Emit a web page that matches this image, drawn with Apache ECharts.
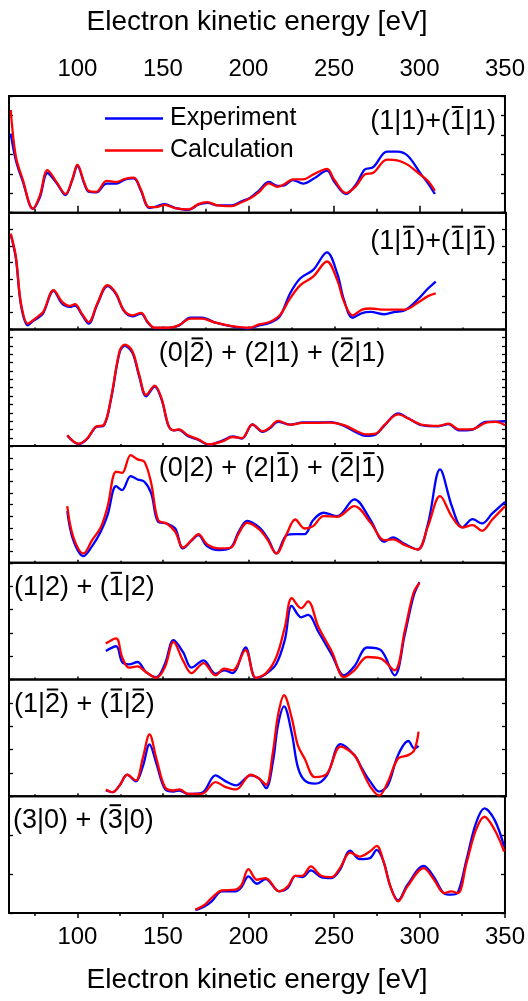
<!DOCTYPE html>
<html>
<head>
<meta charset="utf-8">
<script src="https://cdn.jsdelivr.net/npm/echarts@6/dist/echarts.min.js"></script>
<style>
  html, body { margin: 0; padding: 0; background: #fff; }
  #main { width: 528px; height: 1001px; }
</style>
</head>
<body>
<div id="main"></div>
<script>
// tick values of the energy axis
var xMajor = [100, 150, 200, 250, 300, 350];
var xMinor = [75, 125, 175, 225, 275, 325];

// panel labels (U+0305 after a digit = overline on that digit)
var labels = [
  '(1|1)+(1\u0305|1)',
  '(1|1\u0305)+(1\u0305|1\u0305)',
  '(0|2\u0305) + (2|1) + (2\u0305|1)',
  '(0|2) + (2|1\u0305) + (2\u0305|1\u0305)',
  '(1|2) + (1\u0305|2)',
  '(1|2\u0305) + (1\u0305|2\u0305)',
  '(3|0) + (3\u0305|0)'
];

// panel 1
var e1 = [61, 64, 68, 74, 78, 82.5, 88, 93, 97, 100, 104, 106.5, 111, 117, 123, 128, 133, 137, 142, 146, 151, 157, 165, 171, 176, 182, 190, 196, 201, 206, 212, 217, 221, 226, 232, 238, 246, 250, 257, 263, 268, 273, 281, 287, 293, 301, 305, 309];
var exp1 = [67.8, 45, 27, 3.4, 13, 34, 25, 15, 28, 40, 25, 18, 17.4, 25, 25, 28.6, 29.4, 19.3, 4.2, 5.3, 7.3, 4.2, 2.5, 7, 8.4, 6.2, 6.2, 9.8, 12.9, 18.8, 26.3, 23, 23.5, 28, 25, 29, 36, 27, 16, 24.4, 37, 39, 52.4, 52.4, 49, 32.8, 25.2, 16];
var calc1 = [88, 48.2, 28.6, 3.4, 14.6, 36.4, 25.8, 16, 28.6, 41.2, 25.8, 18.8, 17.9, 27.2, 26.3, 29.1, 30, 20.2, 4.8, 4.8, 6.7, 3.9, 2.8, 7.6, 9, 6.2, 5.6, 9, 12.3, 17.4, 25.2, 22.1, 24.4, 28.6, 28.6, 32.8, 37.5, 28.6, 16.8, 23, 32.8, 34.2, 45.4, 44.8, 41.2, 31.9, 27.2, 18.8];

// panel 2
var e2 = [61, 64, 67, 71, 74, 77, 80, 86, 91, 95.5, 98.5, 102.5, 106.5, 111.5, 117.5, 122.5, 127, 132, 137, 141, 145, 153, 159, 166, 172.5, 180.5, 190, 200, 206, 212, 218, 224, 230, 237.5, 245.5, 251.5, 255.5, 260.5, 266, 271, 279, 285, 291, 298.5, 304.5, 309];
var exp2 = [81.3, 61, 20.7, 3.5, 7.2, 10, 14, 33, 22, 19.3, 20.5, 12.7, 4.9, 21.3, 37, 30, 15.9, 11.2, 13.5, 5.8, 1.2, 1.2, 3.2, 10, 10, 5.8, 2.6, 0.9, 3.5, 5.5, 11.2, 30.8, 43.8, 51, 66, 48, 25, 10, 14, 15, 13, 15, 16.4, 25.6, 35, 41];
var calc2 = [82.1, 62.5, 22.2, 4.9, 7.8, 11.2, 15, 33.7, 23.6, 20.2, 21.6, 13.5, 6.3, 22.2, 38, 30.8, 16.4, 12.1, 14.1, 6.3, 1.4, 1.4, 3.5, 9.2, 9.2, 5.8, 2.9, 1.4, 4.3, 6.3, 12.1, 26.5, 38, 45.2, 58.2, 42.4, 23.6, 12.1, 17, 17.9, 17, 17, 17, 22.8, 28.5, 30.8];

// panel 3
var e3 = [94, 100.5, 105.5, 110.5, 115.5, 119.5, 124.5, 127.5, 132, 136, 140, 145, 149, 153, 156, 159, 164.5, 170.5, 176.5, 184.5, 190.5, 196, 202, 208, 212, 217, 224, 231.5, 239.5, 247.5, 255.5, 263, 268, 274, 279, 287, 293, 300.5, 310.5, 316.5, 322.5, 330, 338, 344, 349.5];
var exp3 = [9, 1.8, 6, 16, 18, 40, 80, 86, 80, 59.5, 42.7, 51, 40, 17.5, 13.5, 14, 8.5, 5.3, 1.2, 4.8, 8.3, 6.5, 18.5, 12.3, 15, 20.8, 18.4, 20.3, 20.3, 20.5, 17.3, 11.5, 8.7, 10, 17.5, 28, 23.8, 18, 17, 18.8, 13.5, 14, 20.7, 21, 21.3];
var calc3 = [9.2, 2, 6.3, 16.4, 18.4, 40.9, 81.3, 87, 81.3, 61.1, 43.8, 51.9, 40.9, 17.9, 13.5, 14.4, 9.2, 5.8, 1.4, 4, 7.8, 6.9, 18.7, 12.7, 15.6, 21.6, 18.4, 19.9, 19.9, 20.2, 17.9, 12.7, 10.1, 10.7, 17.9, 27.1, 23.6, 18.4, 17.3, 19.3, 14.4, 14.4, 19.9, 20.7, 17.9];

// panel 4
var e4 = [94, 97.5, 103.5, 108.5, 113.5, 117.5, 122.5, 126, 131, 135, 139, 143, 147, 152, 157, 161.5, 166.5, 170.5, 175.5, 182.5, 189.5, 194, 199, 206, 211, 216, 222, 227, 232.5, 237.5, 243.5, 251.5, 261.5, 271, 279, 284, 291, 298.5, 304.5, 311.5, 318.5, 324.5, 330.5, 336, 342, 349.5];
var exp4 = [44.3, 19.4, 5.7, 14.3, 26.6, 40.9, 65.7, 62.3, 74.3, 71.4, 69.4, 59.4, 35.1, 33.7, 29.4, 12.3, 18.9, 23.7, 14.3, 10.9, 13.1, 26.6, 36, 30.3, 20.9, 8, 23.7, 24.6, 24.6, 36.6, 42.9, 40, 54.3, 36.6, 18, 21.7, 16, 11.4, 33.7, 80, 48, 30.3, 37.4, 33.7, 42.3, 52.3];
var calc4 = [48.6, 22.3, 8, 19.4, 30.3, 48, 78, 77.1, 92.3, 88.6, 86.6, 68, 36.6, 33.7, 26.6, 13.1, 19.4, 24.6, 16, 12.3, 13.1, 25.1, 34.3, 28.6, 19.4, 8, 24.6, 37.1, 29.4, 31.4, 40, 39.4, 48.6, 34.3, 19.4, 20, 15.1, 11.4, 31.4, 57.1, 39.4, 30.3, 32.3, 27.4, 37.1, 48.6];

// panel 5
var e5 = [116.5, 122.5, 126, 130, 135, 140, 146, 151, 156, 161.5, 166.5, 173.5, 180.5, 185.5, 190.5, 198, 204, 210, 216, 221, 225, 230.5, 234.5, 240.5, 248.5, 255.5, 261.5, 269, 277, 285, 291, 296, 299.5];
var exp5 = [24.5, 28.5, 15, 13, 15, 6.3, 2, 13.5, 33.7, 23.6, 10.1, 16.4, 4.9, 7.8, 5.5, 27.4, 1.4, 4.9, 13.5, 34.3, 63.1, 53.3, 55.3, 40.9, 20.7, 3.5, 11.2, 27.4, 25.1, 3.5, 38.9, 71.2, 83.3];
var calc5 = [30.8, 35.2, 19.3, 10.1, 11.2, 6.3, 1.4, 10.7, 32.3, 16.4, 5.5, 14.1, 3.5, 9.2, 7.8, 25.1, 1.4, 5.5, 19.3, 45.2, 69.7, 61.1, 66.9, 45.2, 23.6, 2, 7.8, 19.3, 17.9, 7.8, 42.4, 74.1, 82.7];

// panel 6
var e6 = [116.5, 120.5, 124.5, 129, 134, 138, 142, 146, 151, 156, 159.5, 164.5, 172.5, 180.5, 186.5, 192.5, 201, 206, 210, 214, 217, 220.5, 225, 228.5, 232.5, 238.5, 245.5, 253.5, 261.5, 266, 271, 276, 281, 287, 293, 296.5, 299];
var exp6 = [4.9, 3.5, 9.2, 18.4, 12.7, 25.1, 44.4, 28, 6.3, 4, 4.9, 2, 2.9, 17.9, 12.7, 9.2, 17.9, 15, 6.9, 29.4, 61.1, 76.9, 53.9, 25.1, 13.5, 10.7, 17.9, 44.7, 35.2, 23.6, 12.1, 4, 9.2, 35.2, 47.3, 40.9, 43.2];
var calc6 = [5.8, 3.5, 9.2, 18.4, 13.5, 32.3, 53, 32.3, 7.8, 4.9, 5.8, 2, 2, 12.1, 7.8, 5.8, 18.4, 15, 9.8, 38, 69.7, 86.5, 66.9, 43.8, 32.3, 16.4, 19.3, 42.4, 35.2, 22.2, 7.8, 0.6, 12.1, 32.3, 35.2, 39.5, 55.3];

// panel 7
var e7 = [169, 174.5, 178.5, 184.5, 192.5, 196, 200, 205, 210, 218, 223, 227.5, 231.5, 236.5, 242.5, 248.5, 253.5, 259.5, 265, 271, 275, 279, 283, 287.5, 293, 302.5, 308.5, 314.5, 318.5, 322.5, 327.5, 333, 338, 344, 349.5];
var exp7 = [2.3, 5.7, 9.9, 18.5, 18.5, 22.2, 31.3, 25, 29, 18.5, 21.3, 31.8, 30.7, 36.4, 30.7, 29.8, 36.9, 53.4, 46, 46.9, 54, 44, 22.7, 10.8, 24.1, 40.3, 30.7, 16.5, 15.6, 17.6, 45.5, 76.7, 89.5, 79.5, 56.8];
var calc7 = [2.8, 7.1, 12.8, 19.3, 19.9, 24.1, 37.5, 28.4, 29.8, 18.5, 22.7, 31.8, 31.8, 39.8, 31.8, 30.7, 38.4, 51.7, 48.3, 52.6, 57.4, 44, 22.7, 9.9, 22.7, 38.4, 28.4, 17, 18.5, 17, 42.6, 71, 82.4, 71, 52.6];

var energies = [e1, e2, e3, e4, e5, e6, e7];
var expData = [exp1, exp2, exp3, exp4, exp5, exp6, exp7];
var calcData = [calc1, calc2, calc3, calc4, calc5, calc6, calc7];
var yTickCount = [6, 7, 14, 10, 5, 5, 3];   // ticks per panel on the y sides

var font = 'Liberation Sans, Arial, sans-serif';
var labelSize = 27;
var chart = echarts.init(document.getElementById('main'));

var TOP = 96, H = 116.7, LEFT = 9, RIGHT = 22;
var grids = [], xAxes = [], yAxes = [], series = [], graphics = [];

function pairs(xs, ys) {
    return xs.map(function (x, k) { return [x, ys[k]]; });
}

for (var i = 0; i < 7; i++) {
    grids.push({
        left: LEFT, right: RIGHT, top: TOP + i * H, height: H,
        show: true, borderColor: '#000', borderWidth: 2, backgroundColor: 'transparent'
    });
    var edge = (i === 0 || i === 6);
    var pos = i === 0 ? 'top' : 'bottom';
    // major ticks + labels
    xAxes.push({
        gridIndex: i, type: 'value', min: 60, max: 350, position: pos,
        axisLine: { show: false }, splitLine: { show: false },
        axisTick: { show: true, inside: !edge, length: edge ? (i === 0 ? 7 : 5) : 3,
            customValues: xMajor, lineStyle: { color: '#000', width: 1.5 } },
        axisLabel: { show: edge, customValues: xMajor, fontSize: 24, color: '#000',
            fontFamily: font, margin: i === 0 ? 15 : 12 },
        name: edge ? 'Electron kinetic energy [eV]' : '',
        nameLocation: 'middle', nameGap: i === 0 ? 60 : 53,
        nameTextStyle: { fontSize: 28, color: '#000', fontFamily: font }
    });
    // minor ticks
    xAxes.push({
        gridIndex: i, type: 'value', min: 60, max: 350, position: pos,
        axisLine: { show: false }, splitLine: { show: false }, axisLabel: { show: false },
        axisTick: { show: true, inside: !edge, length: edge ? (i === 0 ? 4 : 3) : 2,
            customValues: xMinor, lineStyle: { color: '#000', width: 1.5 } }
    });
    ['left', 'right'].forEach(function (side) {
        yAxes.push({
            gridIndex: i, type: 'value', min: 0, max: 100, interval: 100 / yTickCount[i],
            position: side, axisLine: { show: false }, splitLine: { show: false },
            axisLabel: { show: false },
            axisTick: { show: true, inside: true, length: 4, lineStyle: { color: '#000', width: 1.3 } }
        });
    });
    series.push({
        name: 'Experiment', type: 'line', xAxisIndex: 2 * i, yAxisIndex: 2 * i,
        data: pairs(energies[i], expData[i]), smooth: 0.35, symbol: 'none',
        lineStyle: { color: '#0000ff', width: 2.3 }, itemStyle: { color: '#0000ff' }
    });
    series.push({
        name: 'Calculation', type: 'line', xAxisIndex: 2 * i, yAxisIndex: 2 * i,
        data: pairs(energies[i], calcData[i]), smooth: 0.35, symbol: 'none',
        lineStyle: { color: '#ff0000', width: 2.3 }, itemStyle: { color: '#ff0000' }
    });
}

// panel labels: plain text plus a short bar over each marked digit
var measure = document.createElement('canvas').getContext('2d');
measure.font = labelSize + 'px ' + font;
// [x, y offset from panel top, align]
var labelPos = [[496, 26, 'right'], [496, 29, 'right'], [272, 24, 'center'], [272, 22, 'center'],
                [14, 25, 'left'], [14, 25, 'left'], [13, 24, 'left']];
labelPos.forEach(function (p, k) {
    var raw = labels[k], plain = '', bars = [];
    for (var c = 0; c < raw.length; c++) {
        if (raw[c] === '\u0305') { bars.push(plain.length - 1); } else { plain += raw[c]; }
    }
    var yc = TOP + k * H + p[1];
    var total = measure.measureText(plain).width;
    var x0 = p[2] === 'left' ? p[0] : (p[2] === 'right' ? p[0] - total : p[0] - total / 2);
    graphics.push({
        type: 'text', x: x0, y: yc, z: 100,
        style: { text: plain, fontSize: labelSize, fontFamily: font, fill: '#000',
            align: 'left', verticalAlign: 'middle' }
    });
    bars.forEach(function (j) {
        var xs = x0 + measure.measureText(plain.slice(0, j)).width;
        var w = measure.measureText(plain[j]).width;
        graphics.push({
            type: 'line', z: 100,
            shape: { x1: xs + 0.12 * w, y1: yc - 15, x2: xs + 0.88 * w, y2: yc - 15 },
            style: { stroke: '#000', lineWidth: 2 }
        });
    });
});

var option = {
    backgroundColor: '#fff',
    animation: false,
    grid: grids,
    xAxis: xAxes,
    yAxis: yAxes,
    series: series,
    legend: {
        data: ['Experiment', 'Calculation'],
        orient: 'vertical', left: 105, top: 106, padding: 0,
        icon: 'rect', itemWidth: 58, itemHeight: 2.5, itemGap: 7,
        textStyle: { fontSize: 25, color: '#000', fontFamily: font, padding: [0, 0, 0, 2] }
    },
    graphic: graphics
};
chart.setOption(option);
</script>
</body>
</html>
